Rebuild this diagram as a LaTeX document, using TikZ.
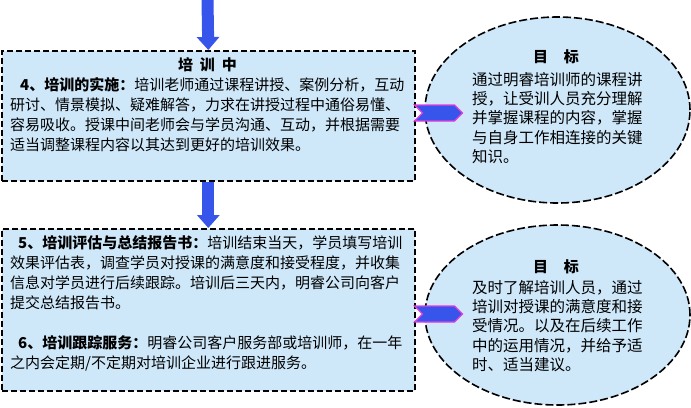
\documentclass[tikz,border=0pt]{standalone}
\usepackage{fontspec}
\setmainfont{Noto Sans CJK SC}
\usetikzlibrary{arrows.meta,shapes.arrows,shapes.geometric,shapes.symbols}
\definecolor{boxfill}{RGB}{206,232,250}
\definecolor{arrowblue}{RGB}{55,85,235}
\definecolor{notchpink}{RGB}{230,60,220}
\tikzset{
  dbox/.style={draw=black, line width=1.6bp, dash pattern=on 6bp off 3bp, fill=boxfill, inner sep=0pt, anchor=north west},
  goal/.style={ellipse, draw=black, line width=1.6bp, dash pattern=on 8bp off 3bp, fill=boxfill, inner sep=0pt},
  flowarrow/.style={line width=12bp, draw=arrowblue, -{Triangle[width=22bp,length=13bp]}},
  sidearrow/.style={signal, signal from=west, signal to=east, fill=arrowblue, draw=notchpink, line width=1.2bp, minimum width=48bp, minimum height=16bp, inner sep=0pt},
  txt/.style={align=left, inner sep=0pt, anchor=north west, font=\fontsize{15bp}{20bp}\selectfont},
  gtxt/.style={align=left, inner sep=0pt, anchor=north west, font=\fontsize{15.5bp}{19.3bp}\selectfont},
  ttl/.style={inner sep=0pt, anchor=center, font=\fontsize{15bp}{18bp}\selectfont\bfseries}
}
\begin{document}
\begin{tikzpicture}[x=1bp,y=-1bp]
\useasboundingbox (0,0) rectangle (691,407);
% boxes
\node[dbox, minimum width=413bp, minimum height=130bp] (b1) at (1,50) {};
\node[dbox, minimum width=413bp, minimum height=162bp] (b2) at (1,228) {};
% ellipses
\node[goal, minimum width=265bp, minimum height=186bp] (e1) at (557.5,110) {};
\node[goal, minimum width=265bp, minimum height=180bp] (e2) at (557.5,315) {};
% flow arrows
\coordinate (top) at (207.5,0);
\draw[flowarrow] (top) -- (b1.north);
\draw[flowarrow] (b1.south) -- (b2.north);
% side arrows
\node[sidearrow] (s1) at (438.5,113) {};
\node[sidearrow] (s2) at (438.5,314) {};
% box 1 text
\node[ttl] (t1) at (207.5,65) {培\hspace{7bp}训\hspace{7bp}中};
\node[txt] (p1) at (10,77) {\hspace{10bp}{\bfseries 4、培训的实施：}培训老师通过课程讲授、案例分析，互动\\
研讨、情景模拟、疑难解答，力求在讲授过程中通俗易懂、\\
容易吸收。授课中间老师会与学员沟通、互动，并根据需要\\
适当调整课程内容以其达到更好的培训效果。};
% box 2 text
\node[txt] (p2) at (10,235) {\hspace{8bp}{\bfseries 5、培训评估与总结报告书：}培训结束当天，学员填写培训\\
效果评估表，调查学员对授课的满意度和接受程度，并收集\\
信息对学员进行后续跟踪。培训后三天内，明睿公司向客户\\
提交总结报告书。\\
\mbox{}\\
\hspace{8bp}{\bfseries 6、培训跟踪服务：}明睿公司客户服务部或培训师，在一年\\
之内会定期/不定期对培训企业进行跟进服务。};
% ellipse 1 text
\node[ttl] (g1) at (556,57) {目\hspace{16bp}标};
\node[gtxt] (q1) at (472,72) {通过明睿培训师的课程讲\\
授，让受训人员充分理解\\
并掌握课程的内容，掌握\\
与自身工作相连接的关键\\
知识。};
% ellipse 2 text
\node[ttl] (g2) at (556,267) {目\hspace{16bp}标};
\node[gtxt] (q2) at (472,280) {及时了解培训人员，通过\\
培训对授课的满意度和接\\
受情况。以及在后续工作\\
中的运用情况，并给予适\\
时、适当建议。};
\end{tikzpicture}
\end{document}
